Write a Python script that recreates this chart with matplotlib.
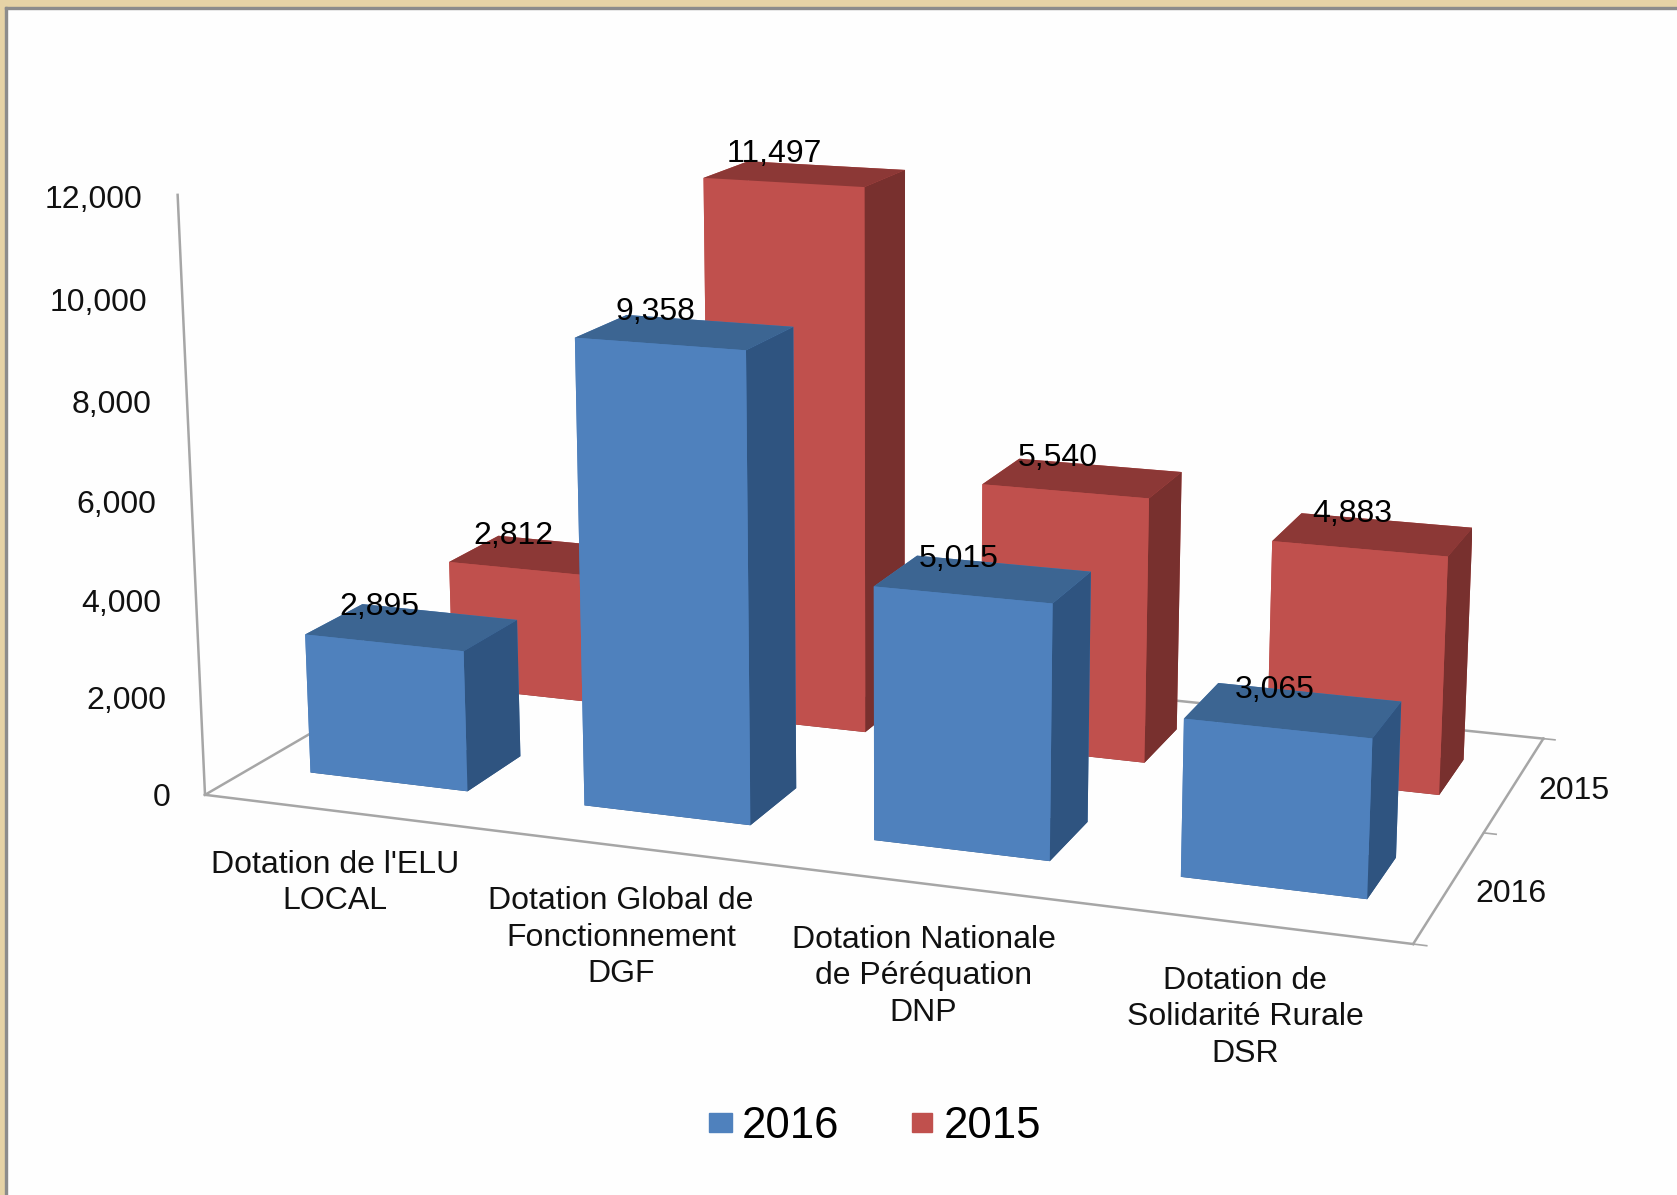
import matplotlib
matplotlib.use('Agg')
import matplotlib.pyplot as plt
from matplotlib.patches import Rectangle

plt.rcParams['font.family'] = ['Liberation Sans', 'DejaVu Sans']

categories = ["Dotation de l'ELU\nLOCAL", "Dotation Global de\nFonctionnement\nDGF",
              "Dotation Nationale\nde Péréquation\nDNP", "Dotation de\nSolidarité Rurale\nDSR"]
series = ['2016', '2015']
vals_2016 = [2895, 9358, 5015, 3065]
vals_2015 = [2812, 11497, 5540, 4883]
z_ticks = [0, 2000, 4000, 6000, 8000, 10000, 12000]

# bottom, top, front, back, left, right
blue_faces = ['#2F5480', '#3C6592', '#4F81BD', '#4F81BD', '#4F81BD', '#2F5480']
red_faces = ['#7A302E', '#8C3836', '#C0504D', '#C0504D', '#C0504D', '#78302E']

fig = plt.figure(figsize=(16.77, 11.95), dpi=100, facecolor='#FEFEFE')
ax = fig.add_axes([0.0212, 0.086, 1, 1], projection='3d', computed_zorder=False)
ax.set_axis_off()
ax.patch.set_alpha(0)

bw = 0.58
bd = 0.38
xlim = (0, 4)
ylim = (0, 2)
zlim = (0, 12000)
ax.set_xlim(*xlim)
ax.set_ylim(*ylim)
ax.set_zlim(*zlim)
ax.set_box_aspect((3.9, 2.05, 1.93), zoom=1.22)
ax.view_init(elev=13.5, azim=-70)
ax.set_proj_type('persp', focal_length=0.57)

grey = '#A6A6A6'
# floor and wall lines
for xs, ys, zs in [(xlim, [0, 0], [0, 0]), ([0, 0], ylim, [0, 0]), ([4, 4], ylim, [0, 0]),
                   (xlim, [2, 2], [0, 0]), ([0, 0], [0, 0], zlim)]:
    ax.plot(xs, ys, zs, color=grey, lw=1.8, zorder=1, clip_on=False)
for y in [0, 1, 2]:
    ax.plot([4, 4.04], [y, y], [0, 0], color=grey, lw=1.2, zorder=1, clip_on=False)

for i, v in enumerate(vals_2015):
    x = i + 0.5 - bw / 2
    ax.bar3d(x, 1.5 - bd / 2, 0, bw, bd, v, color=red_faces, shade=False, zorder=3)
    ax.text(x + bw / 2 - 0.13 + i * 0.02, 1.5, v + 380, f'{v:,}', ha='center', va='center', fontsize=23, zorder=9)
for i, v in enumerate(vals_2016):
    x = i + 0.5 - bw / 2
    ax.bar3d(x, 0.5 - bd / 2, 0, bw, bd, v, color=blue_faces, shade=False, zorder=5)
    ax.text(x + bw / 2 - 0.12 + i * 0.02, 0.5, v + 350, f'{v:,}', ha='center', va='center', fontsize=23, zorder=9)

for t in z_ticks:
    ax.text(-0.13, 0, t - 150, f'{t:,}', ha='right', va='center', fontsize=23, color='#111111')
for i, c in enumerate(categories):
    ax.text(i * 0.975 + 0.66, -0.32, 0, c, ha='center', va='top', fontsize=23, linespacing=1.28, color='#111111')
ax.text(4.08, 0.5, -100, '2016', ha='left', va='center', fontsize=23, color='#111111')
ax.text(4.08, 1.5, -100, '2015', ha='left', va='center', fontsize=23, color='#111111')

# legend
fig.patches.append(Rectangle((0.423, 0.0528), 0.0134, 0.0161, transform=fig.transFigure, color='#4F81BD'))
fig.text(0.4426, 0.057, series[0], fontsize=31.5, va='center')
fig.patches.append(Rectangle((0.544, 0.0528), 0.0115, 0.0161, transform=fig.transFigure, color='#C0504D'))
fig.text(0.563, 0.057, series[1], fontsize=31.5, va='center')

# frame at the left and top
fig.patches.append(Rectangle((0, 0.994), 1, 0.006, transform=fig.transFigure, color='#E6D3A6', zorder=20))
fig.patches.append(Rectangle((0, 0), 0.0032, 1, transform=fig.transFigure, color='#E6D3A6', zorder=20))
fig.patches.append(Rectangle((0.0032, 0.9925), 1, 0.0015, transform=fig.transFigure, color='#8C8C8C', zorder=20))
fig.patches.append(Rectangle((0.0032, 0), 0.0012, 0.994, transform=fig.transFigure, color='#8C8C8C', zorder=20))

fig.savefig('out.png', dpi=100, facecolor=fig.get_facecolor())
